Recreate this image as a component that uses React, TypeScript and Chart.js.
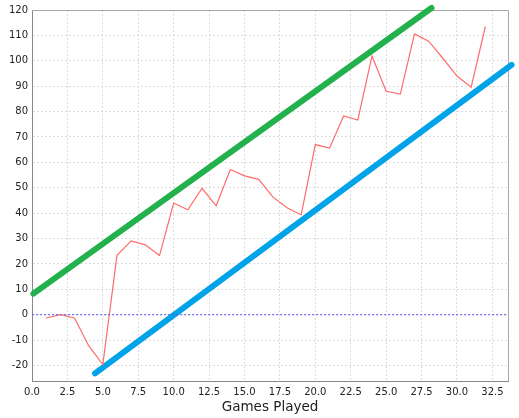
import React, { useEffect, useRef } from 'react';
import { Chart, registerables } from 'chart.js';

Chart.register(...registerables);

const games = [1, 2, 3, 4, 5, 6, 7, 8, 9, 10, 11, 12, 13, 14, 15, 16, 17, 18, 19, 20, 21, 22, 23, 24, 25, 26, 27, 28, 29, 30, 31, 32];
const scores = [-1.3, 0, -1.3, -12.2, -19.6, 23.4, 29.1, 27.5, 23.3, 44, 41.3, 49.8, 42.9, 57.2, 54.7, 53.3, 46.4, 42.1, 39.3, 67, 65.6, 78.3, 76.7, 101.9, 88, 86.9, 110.6, 107.7, 101, 94, 89.6, 113.5];
const upperX = [0.1, 28.2];
const upperY = [8.3, 120.8];
const lowerX = [4.45, 33.85];
const lowerY = [-23.1, 98.4];
const zeroX = [0, 33.6];
const zeroY = [0, 0];
const xTicks = [0, 2.5, 5, 7.5, 10, 12.5, 15, 17.5, 20, 22.5, 25, 27.5, 30, 32.5];
const yTicks = [-20, -10, 0, 10, 20, 30, 40, 50, 60, 70, 80, 90, 100, 110, 120];

const toPts = (xs: number[], ys: number[]) => xs.map((x, i) => ({ x, y: ys[i] }));

const outline = {
  id: 'outline',
  beforeDatasetsDraw(chart: any) {
    const { ctx, chartArea: a } = chart;
    ctx.save();
    ctx.strokeStyle = '#a8a8a8';
    ctx.lineWidth = 1;
    ctx.beginPath();
    ctx.moveTo(a.left, a.top + 0.5);
    ctx.lineTo(a.right + 0.5, a.top + 0.5);
    ctx.lineTo(a.right + 0.5, a.bottom);
    ctx.stroke();
    ctx.restore();
  },
};

export default function App() {
  const ref = useRef<HTMLCanvasElement | null>(null);
  useEffect(() => {
    document.body.style.margin = '0';
    const font = { family: 'DejaVu Sans', size: 10 };
    const chart = new Chart(ref.current as HTMLCanvasElement, {
      type: 'line',
      data: {
        datasets: [
          {
            data: toPts(zeroX, zeroY),
            borderColor: '#5a5aff',
            borderWidth: 1,
            borderDash: [2, 2],
            pointRadius: 0,
          },
          {
            data: toPts(games, scores),
            borderColor: '#ff6b6b',
            borderWidth: 1.2,
            pointRadius: 0,
          },
          {
            data: toPts(upperX, upperY),
            borderColor: '#22b14c',
            borderWidth: 6,
            borderCapStyle: 'round',
            pointRadius: 0,
            clip: false,
          },
          {
            data: toPts(lowerX, lowerY),
            borderColor: '#00a2e8',
            borderWidth: 6,
            borderCapStyle: 'round',
            pointRadius: 0,
            clip: false,
          },
        ] as any,
      },
      options: {
        animation: false,
        responsive: false,
        parsing: false,
        layout: { padding: { top: 6, right: 11, left: 0, bottom: 0 } },
        plugins: { legend: { display: false }, tooltip: { enabled: false } },
        scales: {
          x: {
            type: 'linear',
            min: 0,
            max: 33.6,
            afterBuildTicks: (s: any) => { s.ticks = xTicks.map((v) => ({ value: v })); },
            afterFit: (s: any) => { s.height = 37; },
            ticks: {
              font,
              color: '#222',
              padding: 5,
              maxRotation: 0,
              autoSkip: false,
              callback: (v: any) => Number(v).toFixed(1),
            },
            grid: { color: '#dcdcdc', drawTicks: false },
            border: { color: '#888', dash: [2, 2] },
            title: {
              display: true,
              text: 'Games Played',
              font: { family: 'DejaVu Sans', size: 13.5 },
              color: '#222',
              padding: { top: 0, bottom: 2 },
            },
          },
          y: {
            type: 'linear',
            min: -26.1,
            max: 120,
            afterBuildTicks: (s: any) => { s.ticks = yTicks.map((v) => ({ value: v })); },
            afterFit: (s: any) => { s.width = 32; },
            ticks: { font, color: '#222', padding: 4, autoSkip: false },
            grid: { color: '#dcdcdc', drawTicks: false },
            border: { color: '#888', dash: [2, 2] },
          },
        },
      } as any,
      plugins: [outline],
    });
    return () => chart.destroy();
  }, []);
  return (
    <div style={{ position: 'absolute', left: 0, top: 0, width: 519, height: 418, background: '#fff' }}>
      <canvas ref={ref} width={519} height={418} style={{ width: 519, height: 418 }} />
    </div>
  );
}
